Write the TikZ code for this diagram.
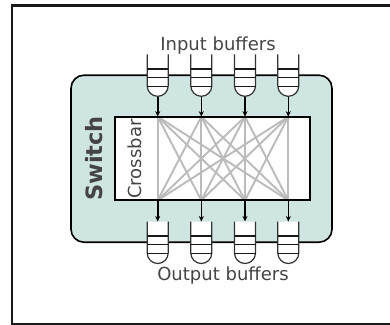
\documentclass[tikz,border=0pt]{standalone}
\usepackage{fontspec}
\setmainfont{DejaVu Sans}
\usepackage{xcolor}
\usetikzlibrary{positioning, arrows.meta}
\definecolor{switchfill}{HTML}{CFE5E2}
\definecolor{labelgray}{HTML}{444444}
\definecolor{wiregray}{HTML}{BBBBBB}

\begin{document}
\begin{tikzpicture}[
    x=1bp, y=-1bp,
    frame/.style={draw=black!90, line width=2.3bp},
    switchbox/.style={draw=black, fill=switchfill, line width=1.6bp, rounded corners=13bp, minimum width=261bp, minimum height=167bp, inner sep=0pt},
    crossbox/.style={draw=black, fill=white, line width=1.7bp, minimum width=195.6bp, minimum height=83.6bp, inner sep=0pt},
    label/.style={text=labelgray, font=\fontsize{18bp}{20bp}\selectfont, inner sep=0pt, anchor=base},
    wire/.style={draw=wiregray, line width=1.9bp},
    arrow/.style={-{Stealth[length=5.5bp, width=5bp]}, line width=1.6bp, black},
    buffer/.pic={
        \fill[white] (-10.5,0) -- (-10.5,31.5) arc[start angle=180, end angle=0, radius=10.5] -- (10.5,0) -- cycle;
        \draw[line width=1.2bp, black!80] (-10.5,0) -- (-10.5,31.5) arc[start angle=180, end angle=0, radius=10.5] -- (10.5,0);
        \foreach \y in {14.5,23,32}
            \draw[line width=1.5bp, black!90] (-10.5,\y) -- (10.5,\y);
    }
]

\useasboundingbox (0,0) rectangle (390,325);

\coordinate (frametop) at (390,5.5);
\coordinate (framebot) at (390,324);
\draw[frame] (frametop) -- (12,5.5) -- (12,324) -- (framebot);

\node[switchbox] (switch) at (201.5,158.7) {};
\node[crossbox] (crossbar) at (212.5,158.5) {};

\node[label, rotate=90, font=\fontsize{22.5bp}{24bp}\selectfont\bfseries] (switchlabel) at (102,158.5) {Switch};
\node[label, rotate=90] (crosslabel) at (141.7,159) {Crossbar};
\node[label] (inlabel) at (218,50.5) {Input buffers};
\node[label] (outlabel) at (223,280) {Output buffers};

\foreach \i/\px in {1/157.7, 2/201.3, 3/245, 4/288.3} {
    \coordinate (top\i) at (\px,116.7);
    \coordinate (bot\i) at (\px,200.3);
    \pic at (\px,54.3) {buffer};
    \pic at (\px,221.5) {buffer};
    \coordinate (in\i) at (\px,96.5);
    \coordinate (out\i) at (\px,221.5);
}

\foreach \i in {1,2,3,4}
    \foreach \j in {1,2,3,4}
        \draw[wire] (top\i) -- (bot\j);

% border again, wires sit under it
\node[crossbox, fill=none] at (crossbar) {};

\foreach \i in {1,2,3,4} {
    \draw[arrow] (in\i) -- (top\i);
    \draw[arrow] (bot\i) -- (out\i);
}

\end{tikzpicture}
\end{document}
